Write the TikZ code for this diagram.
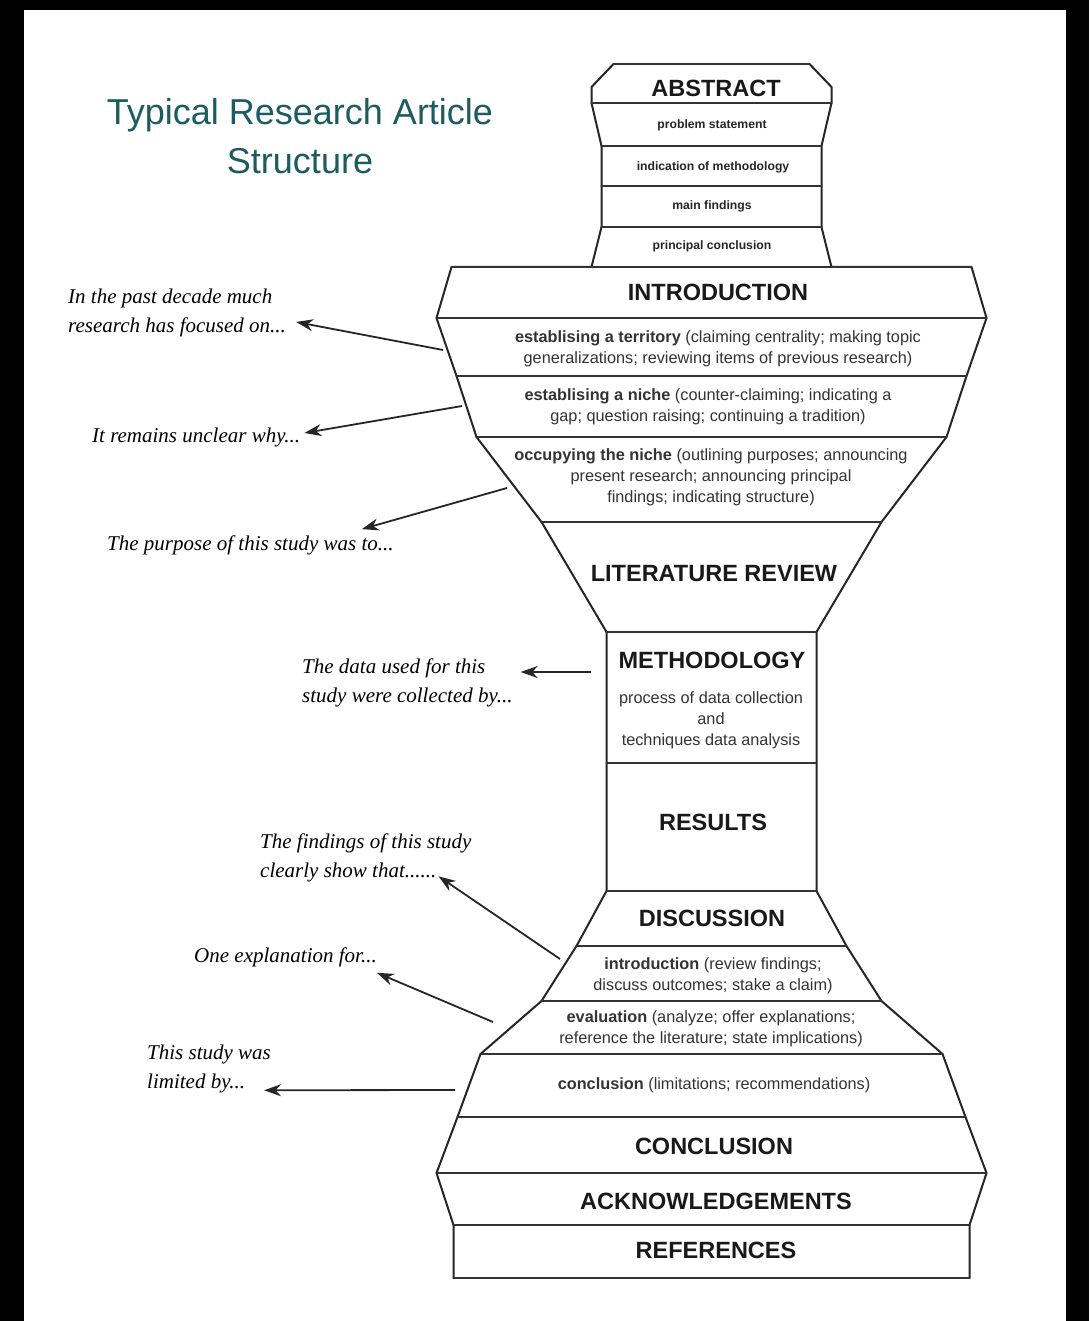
\documentclass[tikz,border=0pt]{standalone}
\usepackage{fontspec}
\setsansfont{Liberation Sans}
\newfontfamily\notefont{Liberation Serif}
\usetikzlibrary{arrows.meta}
\definecolor{titleteal}{RGB}{28,92,96}
\tikzset{
  outline/.style={line width=2pt,draw=black!85,line cap=round,line join=round},
  divider/.style={line width=2.3pt,draw=black!80,line cap=round},
  head/.style={font=\sffamily\bfseries\fontsize{23.5}{27}\selectfont,text=black!90},
  small/.style={font=\sffamily\bfseries\fontsize{12.2}{14}\selectfont,text=black!85},
  body/.style={font=\sffamily\fontsize{16.3}{21}\selectfont,text=black!80,align=center},
  note/.style={font=\notefont\itshape\fontsize{21}{29}\selectfont,align=left,anchor=west,inner sep=2pt},
  callout/.style={line width=1.8pt,draw=black!85,-{Stealth[length=17pt,width=12pt]}},
}

\begin{document}
\begin{tikzpicture}[x=1pt,y=-1pt]
\def\cx{711.5}

% Frame
\fill[black] (0,0) rectangle (1089,1321);
\fill[white] (24,10) rectangle (1066,1321);
\useasboundingbox (0,0) rectangle (1089,1321);

% Title
\node[font=\sffamily\fontsize{36}{49}\selectfont,text=titleteal,align=center]
  (title) at (300,136) {Typical Research Article\\Structure};

% Draw the two sides of the funnel
\foreach \s in {-1,1}
  \draw[outline] (\cx+\s*98,64) -- (\cx+\s*120,87) -- (\cx+\s*120,103)
    -- (\cx+\s*110,146) -- (\cx+\s*110,227) -- (\cx+\s*120,267)
    -- (\cx+\s*260,267) -- (\cx+\s*275,318) -- (\cx+\s*255,376)
    -- (\cx+\s*235,437) -- (\cx+\s*170,522) -- (\cx+\s*105,632)
    -- (\cx+\s*105,891) -- (\cx+\s*135,946) -- (\cx+\s*170,1001)
    -- (\cx+\s*231,1054) -- (\cx+\s*254,1117) -- (\cx+\s*275,1173)
    -- (\cx+\s*258,1225) -- (\cx+\s*258,1278);

% Draw the dividers
\foreach \y/\w in {64/98,103/120,146/110,186/110,227/110,267/260,318/275,
    376/255,437/235,522/170,632/105,763/105,891/105,946/135,1001/170,
    1054/231,1117/254,1173/275,1225/258,1278/258}
  \draw[divider] (\cx-\w,\y) -- (\cx+\w,\y);

% Abstract
\node[head]  (abs)     at (716,88)  {ABSTRACT};
\node[small] (probst)  at (712,125) {problem statement};
\node[small] (indmeth) at (713,167) {indication of methodology};
\node[small] (mainf)   at (712,206) {main findings};
\node[small] (princ)   at (712,246) {principal conclusion};

% Introduction
\node[head] (intro) at (718,292) {INTRODUCTION};
\node[body] (terr)  at (718,349)
  {\textbf{establising a territory} (claiming centrality; making topic\\generalizations; reviewing items of previous research)};
\node[body] (niche) at (708,407)
  {\textbf{establising a niche} (counter-claiming; indicating a\\gap; question raising; continuing a tradition)};
\node[body] (occ)   at (711,477)
  {\textbf{occupying the niche} (outlining purposes; announcing\\present research; announcing principal\\findings; indicating structure)};

\node[head] (litrev)  at (714,574) {LITERATURE REVIEW};
\node[head] (meth)    at (712,660) {METHODOLOGY};
\node[body] (methtxt) at (711,720) {process of data collection\\and\\techniques data analysis};
\node[head] (res)     at (713,822) {RESULTS};

% Discussion
\node[head] (disc)  at (712,918) {DISCUSSION};
\node[body] (dintro) at (713,976)
  {\textbf{introduction} (review findings;\\discuss outcomes; stake a claim)};
\node[body] (deval) at (711,1029)
  {\textbf{evaluation} (analyze; offer explanations;\\reference the literature; state implications)};
\node[body] (dconc) at (714,1085)
  {\textbf{conclusion} (limitations; recommendations)};

\node[head] (concl) at (714,1146) {CONCLUSION};
\node[head] (ack)   at (716,1201) {ACKNOWLEDGEMENTS};
\node[head] (refs)  at (716,1250) {REFERENCES};

% Example phrases
\node[note] (lab1) at (66,313)  {In the past decade much\\research has focused on...};
\node[note] (lab2) at (90,437)  {It remains unclear why...};
\node[note] (lab3) at (105,545) {The purpose of this study was to...};
\node[note] (lab4) at (300,683) {The data used for this\\study were collected by...};
\node[note] (lab5) at (258,858) {The findings of this study\\clearly show that......};
\node[note] (lab6) at (192,957) {One explanation for...};
\node[note] (lab7) at (145,1069) {This study was\\limited by...};

\coordinate (t1) at (443,350);
\coordinate (t2) at (462,406);
\coordinate (t3) at (507,488);
\coordinate (t4) at (591,672);
\coordinate (t5) at (560,959);
\coordinate (t6) at (493,1022);
\coordinate (t7) at (455,1090);

\draw[callout] (t1) -- ([shift={(8,9)}]lab1.east);
\draw[callout] (t2) -- ([shift={(2,-4)}]lab2.east);
\draw[callout] (t3) -- ([shift={(-34,-4)}]lab3.north east);
\draw[callout] (t4) -- ([shift={(6,-11)}]lab4.east);
\draw[callout] (t5) -- ([shift={(-35,-8)}]lab5.south east);
\draw[callout] (t6) -- ([shift={(-2,4)}]lab6.south east);
\draw[callout] (t7) -- ([shift={(-9,-5)}]lab7.south east);

\end{tikzpicture}
\end{document}
